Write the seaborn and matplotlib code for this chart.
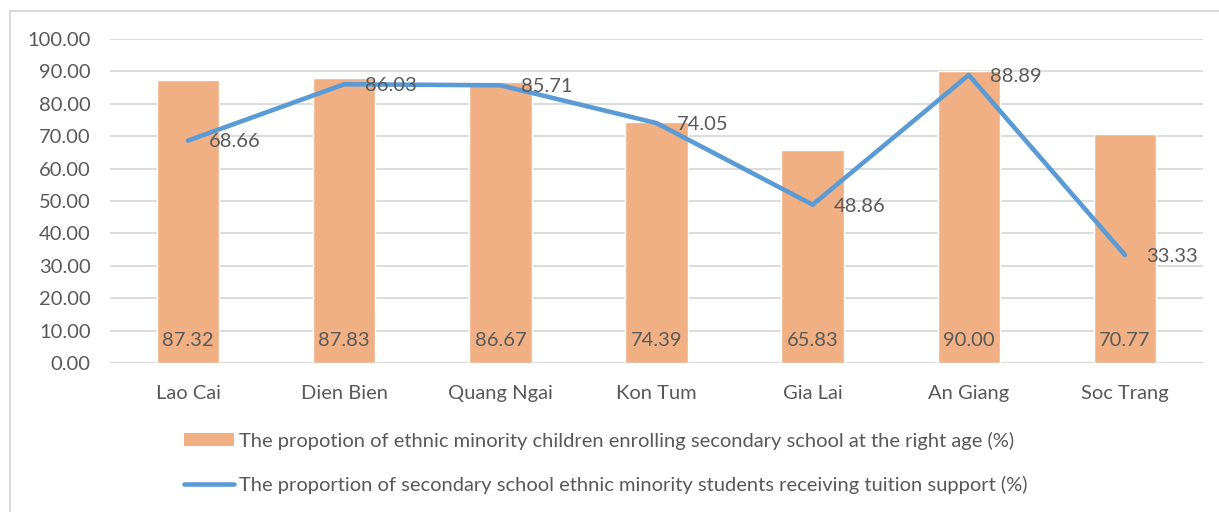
import matplotlib
matplotlib.use("Agg")
import matplotlib.pyplot as plt
from matplotlib.patches import Rectangle, Patch
from matplotlib.lines import Line2D
from matplotlib.ticker import FuncFormatter, MultipleLocator
import seaborn as sns
import pandas as pd

provinces = ["Lao Cai", "Dien Bien", "Quang Ngai", "Kon Tum", "Gia Lai", "An Giang", "Soc Trang"]
enrolment = [87.32, 87.83, 86.67, 74.39, 65.83, 90.00, 70.77]
tuition = [68.66, 86.03, 85.71, 74.05, 48.86, 88.89, 33.33]
bar_label = "The propotion of ethnic minority children enrolling secondary school at the right age (%)"
line_label = "The proportion of secondary school ethnic minority students receiving tuition support (%)"

BAR = "#F0B084"
LINE = "#5B9BD5"
TXT = "#595959"
GRID = "#D9D9D9"
FS = 14.5

sns.set_theme(style="white")
plt.rcParams["font.family"] = ["Lato", "DejaVu Sans"]

df = pd.DataFrame({"Province": provinces, "Enrolment": enrolment, "Tuition": tuition})

fig = plt.figure(figsize=(12.19, 5.12), dpi=100)
ax = fig.add_axes([110 / 1219, 1 - 363 / 512, (1203 - 110) / 1219, (363 - 39) / 512])

sns.barplot(data=df, x="Province", y="Enrolment", color=BAR, saturation=1, width=0.4,
            ax=ax, zorder=2, errorbar=None)
sns.pointplot(data=df, x="Province", y="Tuition", color=LINE, markers="", linestyles="-",
              errorbar=None, ax=ax, zorder=3, linewidth=3.3, solid_capstyle="round")

ax.set_ylim(0, 100)
ax.yaxis.set_major_locator(MultipleLocator(10))
ax.yaxis.set_major_formatter(FuncFormatter(lambda v, p: f"{v:.2f}"))
ax.grid(axis="y", color=GRID, linewidth=1.3, zorder=0)
ax.set_axisbelow(True)
for s in ax.spines.values():
    s.set_visible(False)
ax.axhline(0, color=GRID, linewidth=1.3, zorder=1)
ax.set_xlabel("")
ax.set_ylabel("")
ax.tick_params(axis="both", length=0, labelsize=FS, labelcolor=TXT)
ax.tick_params(axis="y", pad=14)
ax.tick_params(axis="x", pad=16)

for i, (b, t) in enumerate(zip(enrolment, tuition)):
    ax.annotate(f"{b:.2f}", xy=(i, 0), xytext=(0, 16), textcoords="offset points",
                ha="center", va="center", fontsize=FS, color=TXT, zorder=4)
    ax.annotate(f"{t:.2f}", xy=(i, t), xytext=(15, -1), textcoords="offset points",
                ha="left", va="center", fontsize=FS, color=TXT, zorder=4)

handles = [Patch(facecolor=BAR, edgecolor="none"),
           Line2D([0], [0], color=LINE, linewidth=3.3, solid_capstyle="round")]
fig.legend(handles, [bar_label, line_label], loc="center left",
           bbox_to_anchor=(184 / 1219, 1 - 463 / 512), frameon=False, fontsize=FS,
           labelcolor=TXT, handlelength=2.5, handleheight=0.6, handletextpad=0.25,
           labelspacing=1.3, borderpad=0, borderaxespad=0)

fig.patches.append(Rectangle((10 / 1219, -0.1), 2, 1.1 - 11 / 512, transform=fig.transFigure,
                             facecolor="none", edgecolor=GRID, linewidth=1.5))

fig.savefig("out.png", dpi=100)
